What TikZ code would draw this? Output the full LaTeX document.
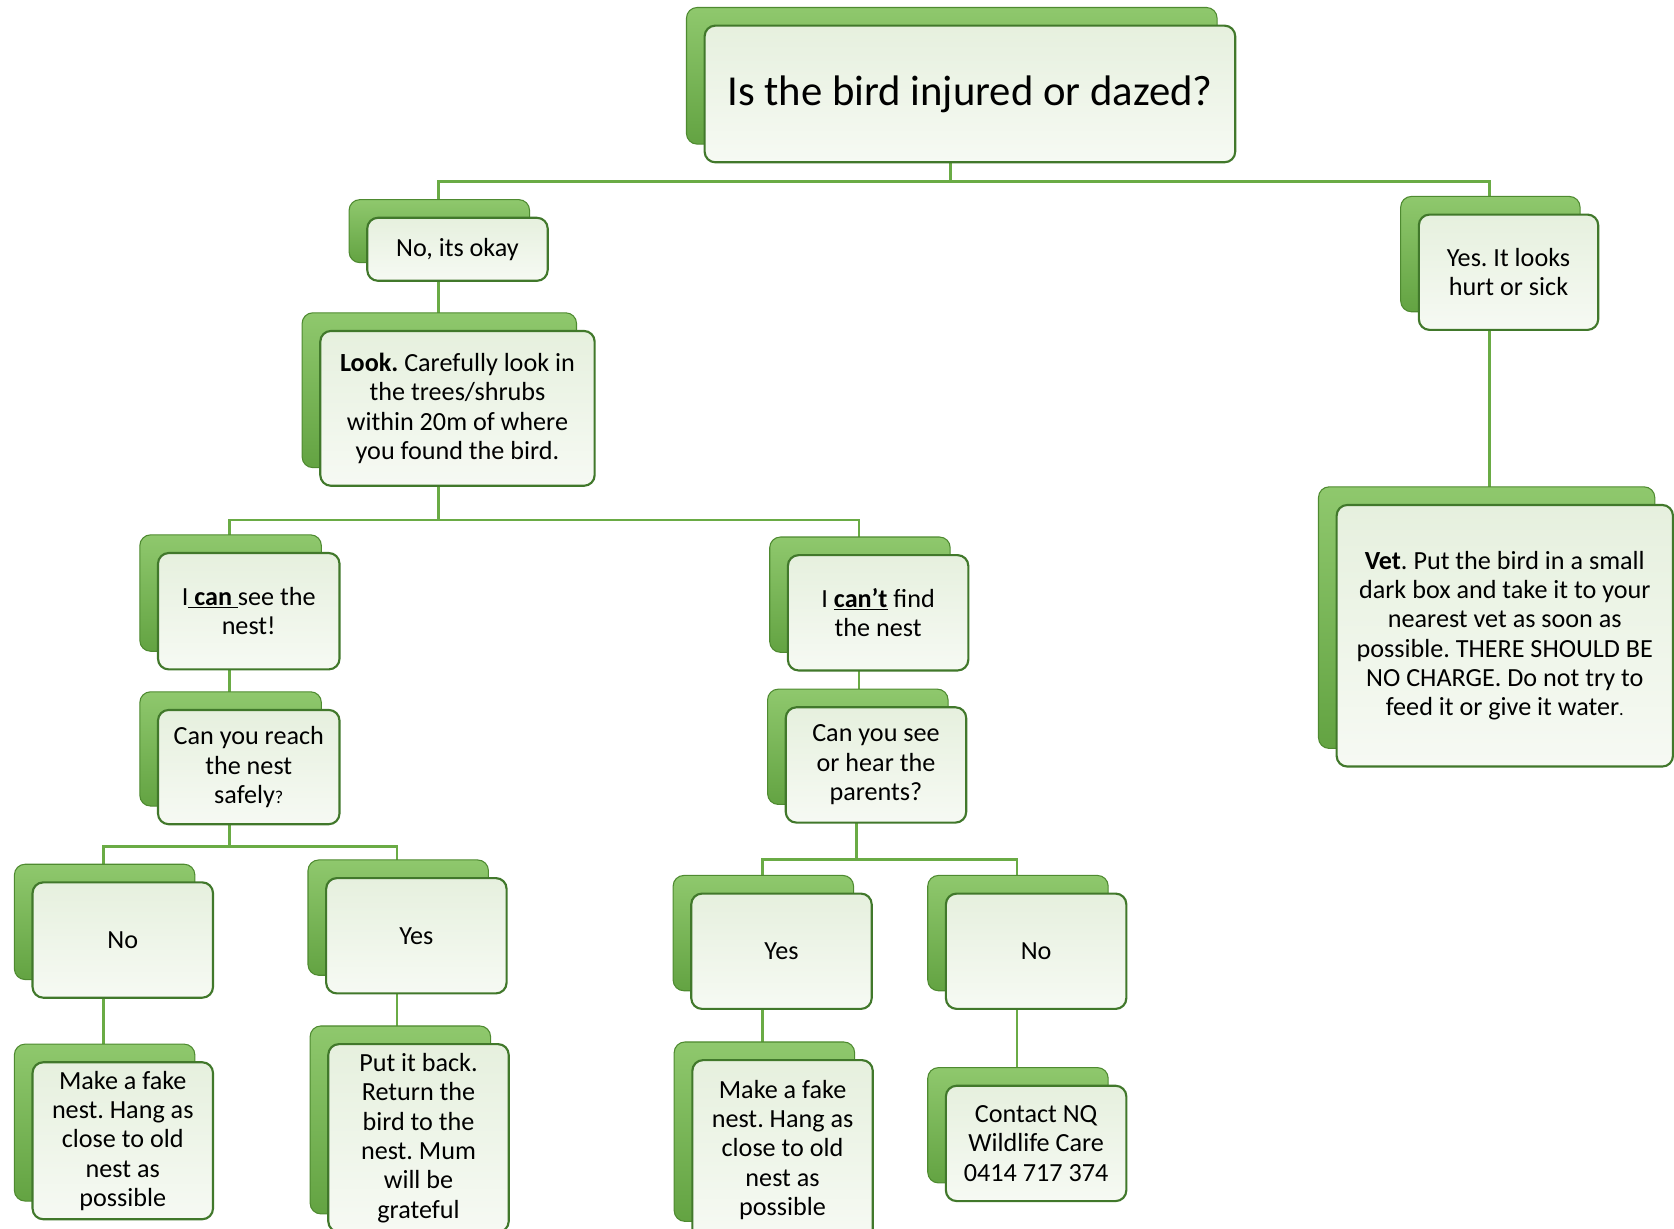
\documentclass[tikz,border=0pt]{standalone}
\usepackage{fontspec}
\setmainfont{Carlito}
\usetikzlibrary{shadows,backgrounds}
\frenchspacing

\definecolor{linkgreen}{HTML}{6AAB45}
\definecolor{edgegreen}{HTML}{41782B}
\definecolor{paleface}{HTML}{E6F0DE}
\definecolor{backtop}{HTML}{8FC86D}
\definecolor{backbot}{HTML}{63A342}
\definecolor{backedge}{HTML}{4E8A30}

\begin{document}
\begin{tikzpicture}[x=1pt, y=1pt,
  card/.style={draw=edgegreen, line width=2pt, rounded corners=10pt,
    top color=paleface, bottom color=paleface!35!white,
    general shadow={shadow xshift=-17pt, shadow yshift=17pt,
      top color=backtop, bottom color=backbot, draw=backedge, line width=1pt},
    minimum width=169pt, minimum height=108pt, inner sep=0pt, align=center,
    font=\fontsize{24.5}{27.5}\selectfont},
  link/.style={draw=linkgreen, line width=2.5pt}]
\useasboundingbox (0,0) rectangle (1568,-1151);

\node[card, minimum width=497pt, minimum height=128pt,
  font=\fontsize{40}{48}\selectfont] (top) at (908.5,-88) {Is the bird injured or dazed?};

\node[card, minimum height=59pt] (okay) at (428.5,-233.5) {No, its okay};
\node[card, minimum width=257pt, minimum height=145pt] (look) at (428.5,-382.5)
  {\textbf{Look.} Carefully look in\\the trees/shrubs\\within 20m of where\\you found the bird.};

\node[card, minimum width=168pt] (yeshurt) at (1413,-255) {Yes. It looks\\hurt or sick};
\node[card, minimum width=315pt, minimum height=245pt] (vet) at (1409.5,-595.5)
  {\textbf{Vet}. Put the bird in a small\\dark box and take it to your\\nearest vet as soon as\\possible. THERE SHOULD BE\\NO CHARGE. Do not try to\\feed it or give it water{\fontsize{17}{20}\selectfont .}};

\node[card, minimum width=170pt, minimum height=109pt] (cansee) at (233,-572.5)
  {I\underline{ \textbf{can} }see the\\nest!};
\node[card, minimum width=170pt, minimum height=107pt] (reach) at (233,-718.5)
  {Can you reach\\the nest\\safely{\fontsize{17}{20}\selectfont ?}};

\node[card] (cant) at (822.5,-574) {I \underline{\textbf{can’t}} find\\the nest};
\node[card] (parents) at (820.5,-716.5) {Can you see\\or hear the\\parents?};

\node[card] (noL) at (115,-880.5) {No};
\node[card] (yesL) at (390,-876.5) {Yes};
\node[card, minimum height=147pt] (makeL) at (115,-1068.5)
  {Make a fake\\nest. Hang as\\close to old\\nest as\\possible};
\node[card, minimum height=176pt] (put) at (392,-1066)
  {Put it back.\\Return the\\bird to the\\nest. Mum\\will be\\grateful};

\node[card] (yesM) at (732,-891) {Yes};
\node[card] (noR) at (970.5,-891) {No};
\node[card, minimum height=168pt] (makeM) at (733,-1077)
  {Make a fake\\nest. Hang as\\close to old\\nest as\\possible};
\node[card] (contact) at (970.5,-1071) {Contact NQ\\Wildlife Care\\0414 717 374};

\begin{scope}[on background layer]
% branches
\foreach \p/\d/\c in {top/82/okay, top/82/yeshurt, look/104.5/cansee, look/104.5/cant,
    reach/74.5/noL, reach/74.5/yesL, parents/88.5/yesM, parents/88.5/noR}
  \draw[link] ([xshift=-18pt]\p.center) -- ++(0,-\d) -| ([xshift=-18pt]\c.center);

% straight links
\foreach \a/\b in {okay/look, yeshurt/vet, cansee/reach, noL/makeL, yesL/put,
    cant/parents, yesM/makeM, noR/contact}
  \draw[link] ([xshift=-18pt]\a.center) -- ([xshift=-18pt]\a.center |- \b.center);
\end{scope}
\end{tikzpicture}
\end{document}
